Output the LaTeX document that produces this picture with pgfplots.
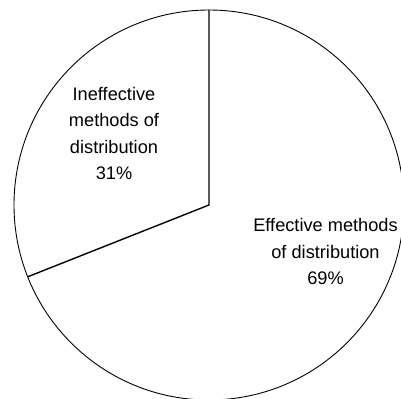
\documentclass[border=0pt]{standalone}
\usepackage{pgfplots}
\pgfplotsset{compat=1.18}
\usepackage{pgfplotstable}
\usepackage{fontspec}
\setmainfont{Liberation Sans}

% shares of the two groups, in percent
\pgfplotstableread[col sep=comma]{
share,value
Ineffective,31
Effective,69
}\sharetable

\begin{document}
\begin{tikzpicture}
\pgfplotstablegetelem{0}{value}\of\sharetable \let\vIneff\pgfplotsretval
\pgfplotstablegetelem{1}{value}\of\sharetable \let\vEff\pgfplotsretval
% the first slice runs counter-clockwise from twelve o'clock
\pgfmathsetmacro{\splitangle}{90+3.6*\vIneff}
\pgfmathsetmacro{\R}{195}
\begin{axis}[
  x=1bp, y=1bp,
  xmin=-209, xmax=192, ymin=-194, ymax=205,
  hide axis, clip=true, clip bounding box=upper bound,
]
\path[draw=none] (axis cs:-209,-194) rectangle (axis cs:192,205);
\draw[line width=0.9bp, fill=white] (axis cs:0,0) circle[radius=\R bp];
\draw[line width=1.4bp, line join=miter]
  (axis cs:0,\R) -- (axis cs:0,0)
  -- (axis cs:{\R*cos(\splitangle)},{\R*sin(\splitangle)});
\node[align=center, font=\fontsize{18.2bp}{26.5bp}\selectfont]
  at (axis cs:-95,71.3) {Ineffective\\methods of\\distribution\\\vIneff\%};
\node[align=center, font=\fontsize{18.2bp}{26.5bp}\selectfont]
  at (axis cs:116.5,-46.5) {Effective methods\\of distribution\\\vEff\%};
\end{axis}
\end{tikzpicture}
\end{document}
